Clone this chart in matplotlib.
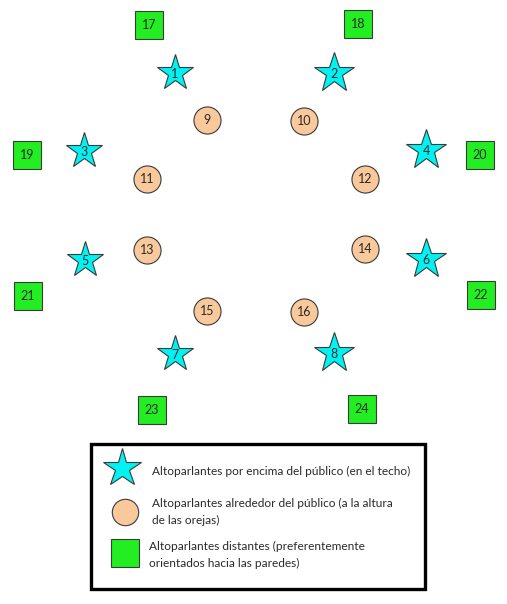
import matplotlib

matplotlib.use("Agg", force=True)

import matplotlib.pyplot as plt
from matplotlib.patches import Rectangle

# speaker layout (drawing units = pixels of the original sketch, y downwards)
star_ids = [1, 2, 3, 4, 5, 6, 7, 8]
star_x = [175, 334, 84, 426, 85, 426, 175, 334]
star_y = [73, 73, 151, 150, 260, 259, 354, 353]

circle_ids = [9, 10, 11, 12, 13, 14, 15, 16]
circle_x = [207, 304, 147, 365, 147, 365, 207, 304]
circle_y = [120, 121, 179, 179, 250, 249, 311, 312]

square_ids = [17, 18, 19, 20, 21, 22, 23, 24]
square_x = [149, 358, 27, 480, 28, 481, 152, 362]
square_y = [25, 24, 155, 155, 296, 295, 410, 409]

legend_labels = [
    "Altoparlantes por encima del público (en el techo)",
    "Altoparlantes alrededor del público (a la altura\nde las orejas)",
    "Altoparlantes distantes (preferentemente\norientados hacia las paredes)",
]

CYAN = "#00f3f3"
PEACH = "#f9c89b"
GREEN = "#22ee22"
EDGE = "#3a3a3a"
TXT = "#2a2a2a"

plt.rcParams["font.family"] = ["Lato", "DejaVu Sans"]

fig = plt.figure(figsize=(5.07, 6.04), dpi=100)
ax = fig.add_axes([0, 0, 1, 1])
ax.set_xlim(0, 507)
ax.set_ylim(604, 0)
ax.axis("off")

# left-hand stars are drawn a little smaller in the original
star_ms = [27.5 if x < 253 else 30 for x in star_x]

for i, x, y, ms in zip(star_ids, star_x, star_y, star_ms):
    ax.plot(x, y, marker="*", ms=ms, mfc=CYAN, mec=EDGE, mew=0.8, ls="none")
    ax.text(x, y + 1, str(i), ha="center", va="center", fontsize=9, color=TXT)

for i, x, y in zip(circle_ids, circle_x, circle_y):
    ax.plot(x, y, marker="o", ms=19.5, mfc=PEACH, mec=EDGE, mew=0.8, ls="none")
    ax.text(x, y, str(i), ha="center", va="center", fontsize=9, color=TXT)

for i, x, y in zip(square_ids, square_x, square_y):
    ax.plot(x, y, marker="s", ms=20, mfc=GREEN, mec=EDGE, mew=0.8, ls="none")
    ax.text(x, y, str(i), ha="center", va="center", fontsize=9, color=TXT)

# legend box
ax.add_patch(Rectangle((91, 444), 334, 145, fill=False, ec="black", lw=2.4))

ax.plot(122, 468, marker="*", ms=28.5, mfc=CYAN, mec=EDGE, mew=0.8, ls="none")
ax.plot(125, 512, marker="o", ms=19, mfc=PEACH, mec=EDGE, mew=0.8, ls="none")
ax.plot(124.5, 553, marker="s", ms=20, mfc=GREEN, mec=EDGE, mew=0.8, ls="none")

legend_pos = [(152, 471), (152, 512), (149, 555)]
for (tx, ty), lab in zip(legend_pos, legend_labels):
    ax.text(tx, ty, lab, ha="left", va="center", fontsize=8.6, color=TXT,
            linespacing=1.6)

fig.savefig("out.png", dpi=100)
plt.close(fig)
